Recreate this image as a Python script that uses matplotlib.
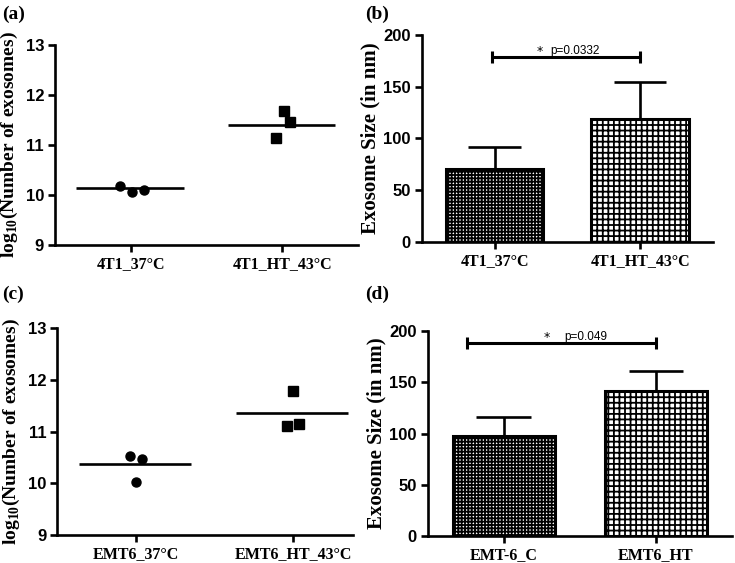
import numpy as np
import matplotlib
matplotlib.use("Agg")
import matplotlib.pyplot as plt

# ===== DATA =====

# (a) 4T1 exosome counts, log10
a_groups = ["4T1_37\u00b0C", "4T1_HT_43\u00b0C"]
a_ctrl = [10.18, 10.05, 10.09]
a_ht = [11.13, 11.68, 11.45]
a_ctrl_jit = [-0.07, 0.01, 0.09]
a_ht_jit = [-0.04, 0.01, 0.05]
a_lines = [10.13, 11.39]

# (b) 4T1 exosome size
b_groups = ["4T1_37\u00b0C", "4T1_HT_43\u00b0C"]
b_mean = [70.5, 119.0]
b_err = [21.5, 36.0]
b_sig = 178.5
b_ptext = "p=0.0332"

# (c) EMT6 exosome counts, log10
c_groups = ["EMT6_37\u00b0C", "EMT6_HT_43\u00b0C"]
c_ctrl = [10.53, 10.47, 10.03]
c_ht = [11.10, 11.79, 11.15]
c_ctrl_jit = [-0.04, 0.04, 0.0]
c_ht_jit = [-0.04, 0.0, 0.04]
c_lines = [10.37, 11.36]

# (d) EMT6 exosome size
d_groups = ["EMT-6_C", "EMT6_HT"]
d_mean = [97.5, 141.5]
d_err = [18.5, 19.5]
d_sig = 188.0
d_ptext = "p=0.049"

# ===== STYLE =====

plt.rcParams["mathtext.fontset"] = "custom"
plt.rcParams["mathtext.bf"] = "Liberation Serif:bold"
plt.rcParams["mathtext.rm"] = "Liberation Serif:bold"
plt.rcParams["hatch.linewidth"] = 1.3
plt.rcParams["hatch.color"] = "black"

SERIF = "Liberation Serif"
SANS = "Liberation Sans"
LW = 1.9


def style_axes(ax, yticks, labels, ylabel, ysize, ypad):
    for s in ["top", "right"]:
        ax.spines[s].set_visible(False)
    for s in ["left", "bottom"]:
        ax.spines[s].set_linewidth(LW)
    ax.set_yticks(yticks)
    ax.set_yticklabels([str(t) for t in yticks], fontfamily=SANS,
                       fontweight="bold", fontsize=12)
    ax.set_xticks([0, 1])
    ax.set_xticklabels(labels, fontfamily=SERIF, fontweight="bold", fontsize=11.5)
    ax.tick_params(width=LW, length=5, direction="out", pad=3)
    ax.set_ylabel(ylabel, fontfamily=SERIF, fontweight="bold", fontsize=ysize,
                  labelpad=ypad)


def scatter_panel(ax, groups, ctrl, ht, cj, hj, lines, xmax):
    ax.plot(np.array(cj), ctrl, "o", color="black", ms=6.5, clip_on=False)
    ax.plot(1 + np.array(hj), ht, "s", color="black", ms=7, clip_on=False)
    for i, m in enumerate(lines):
        ax.hlines(m, i - 0.36, i + 0.35, color="black", lw=LW)
    ax.set_xlim(-0.5, xmax)
    ax.set_ylim(9, 13)
    style_axes(ax, [9, 10, 11, 12, 13], groups,
               r"log$_{\mathbf{10}}$(Number of exosomes)", 14, 4)


def bar_panel(ax, groups, mean, err, sig, ptext, sig_x0, star_x, p_x):
    x = np.arange(len(mean))
    hatches = ["+++++", "+++"]
    for i in x:
        ax.bar(i, mean[i], width=0.67, color="white", edgecolor="black",
               linewidth=2.2, hatch=hatches[i], zorder=2)
        top = mean[i] + err[i]
        ax.vlines(i, mean[i], top, color="black", lw=LW, zorder=1)
        ax.hlines(top, i - 0.18, i + 0.18, color="black", lw=LW, zorder=1)
    ax.hlines(sig, sig_x0, 1, color="black", lw=2.2)
    ax.vlines([sig_x0, 1], sig - 6, sig + 6, color="black", lw=2.2)
    ax.text(star_x, sig - 1, "*", ha="center", va="bottom", fontsize=9,
            fontfamily="DejaVu Sans")
    ax.text(p_x, sig + 0.5, ptext, ha="center", va="bottom", fontsize=8.5,
            fontfamily=SANS)
    ax.set_xlim(-0.5, 1.5)
    ax.set_ylim(0, 200)
    style_axes(ax, [0, 50, 100, 150, 200], groups, "Exosome Size (in nm)", 15, 2)


fig = plt.figure(figsize=(7.35, 5.63), dpi=100)

ax_a = fig.add_axes([0.075, 0.565, 0.412, 0.355])
ax_b = fig.add_axes([0.574, 0.570, 0.396, 0.368])
ax_c = fig.add_axes([0.078, 0.050, 0.402, 0.367])
ax_d = fig.add_axes([0.582, 0.048, 0.414, 0.364])

scatter_panel(ax_a, a_groups, a_ctrl, a_ht, a_ctrl_jit, a_ht_jit, a_lines, 1.5)
bar_panel(ax_b, b_groups, b_mean, b_err, b_sig, b_ptext, -0.02, 0.31, 0.55)
scatter_panel(ax_c, c_groups, c_ctrl, c_ht, c_ctrl_jit, c_ht_jit, c_lines, 1.38)
bar_panel(ax_d, d_groups, d_mean, d_err, d_sig, d_ptext, -0.24, 0.28, 0.54)

for lab, (x, y) in zip(["(a)", "(b)", "(c)", "(d)"],
                       [(0.003, 0.975), (0.497, 0.975), (0.003, 0.478), (0.497, 0.478)]):
    fig.text(x, y, lab, fontfamily=SERIF, fontweight="bold", fontsize=14,
             va="center", ha="left")

fig.savefig("out.png", dpi=100)
